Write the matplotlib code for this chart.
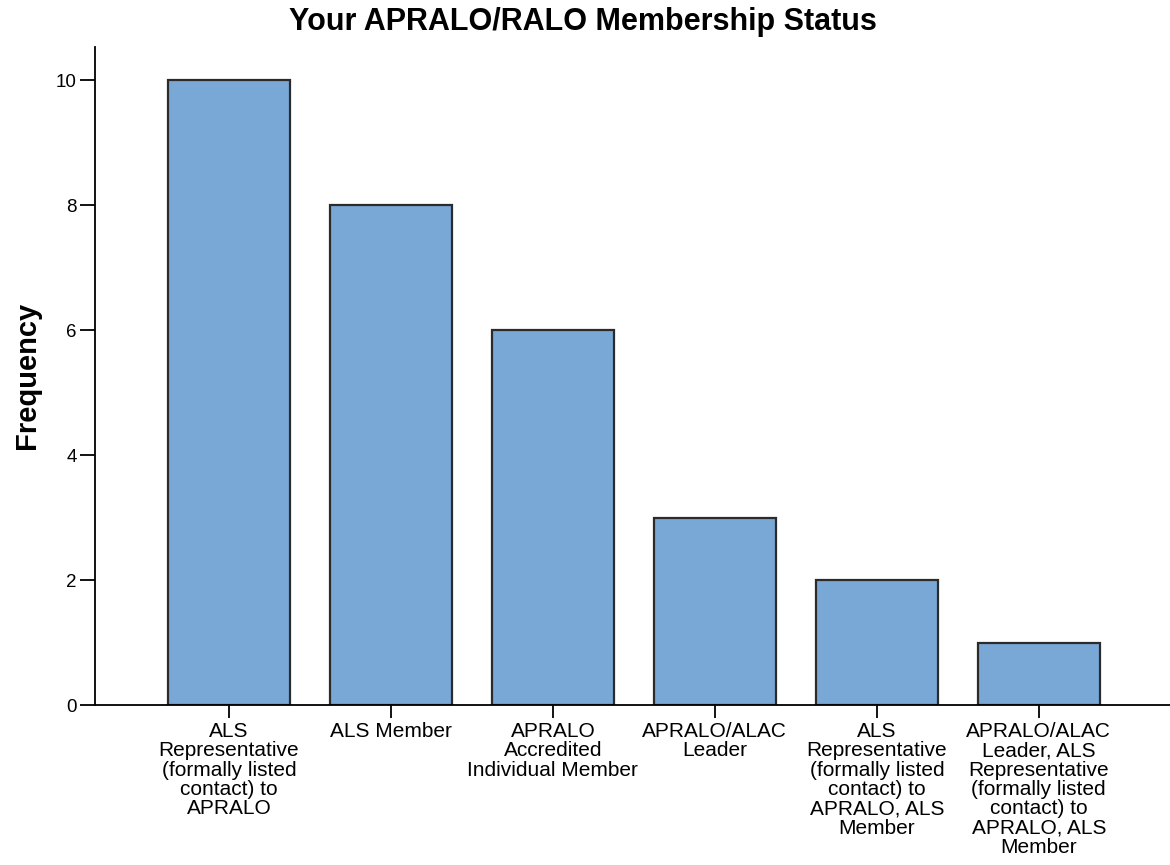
import matplotlib.pyplot as plt

# === Data ===
categories = [
    "ALS\nRepresentative\n(formally listed\ncontact) to\nAPRALO",
    "ALS Member",
    "APRALO\nAccredited\nIndividual Member",
    "APRALO/ALAC\nLeader",
    "ALS\nRepresentative\n(formally listed\ncontact) to\nAPRALO, ALS\nMember",
    "APRALO/ALAC\nLeader, ALS\nRepresentative\n(formally listed\ncontact) to\nAPRALO, ALS\nMember",
]
frequencies = [10, 8, 6, 3, 2, 1]
y_ticks = [0, 2, 4, 6, 8, 10]

plt.rcParams['font.family'] = ['Liberation Sans', 'DejaVu Sans']

fig = plt.figure(figsize=(11.7, 8.65), dpi=100)
# axes placed to match the SPSS-style layout
ax = fig.add_axes([95 / 1170, 1 - 705 / 865, 1 - 95 / 1170, (705 - 47) / 865])

x = list(range(len(categories)))
ax.bar(x, frequencies, width=0.753, color='#79a8d6', edgecolor='#2b2b2b', linewidth=1.6, zorder=2)

ax.set_xlim(-0.827, 5.81)
ax.set_ylim(0, 10.53)
ax.set_yticks(y_ticks)
ax.set_xticks(x)
ax.set_xticklabels(categories, fontsize=15, linespacing=1.03, va='top')

ax.spines['top'].set_visible(False)
ax.spines['right'].set_visible(False)
ax.spines['left'].set_linewidth(1.3)
ax.spines['bottom'].set_linewidth(1.3)
ax.tick_params(axis='y', length=11, width=1.3, labelsize=13.5, pad=2)
ax.tick_params(axis='x', length=9, width=1.3, pad=3)

fig.text(27 / 1170, 1 - 375 / 865, 'Frequency', rotation=90,
         ha='center', va='center', fontsize=21, fontweight='bold')
fig.text(583 / 1170, 1 - 22 / 865, 'Your APRALO/RALO Membership Status',
         ha='center', va='center', fontsize=22, fontweight='bold')

fig.savefig('out.png', dpi=100)
